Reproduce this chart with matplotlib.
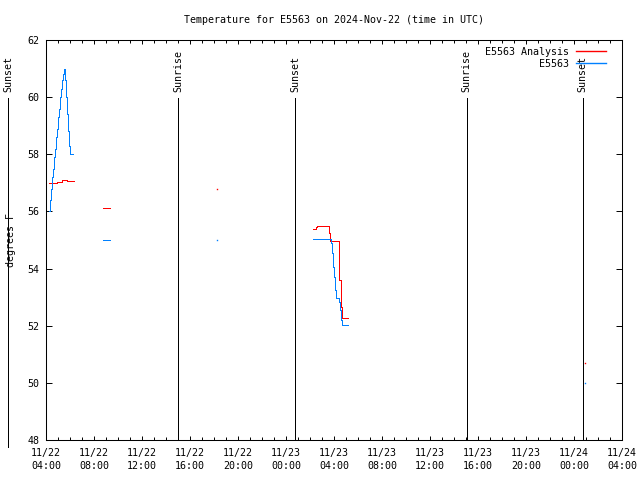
import pandas as pd
import matplotlib
matplotlib.use('Agg')
import matplotlib.pyplot as plt
import matplotlib.dates as mdates
import matplotlib.transforms as mtransforms

plt.rcParams['font.family'] = ['DejaVu Sans Mono']
plt.rcParams['font.size'] = 7.2
plt.rcParams['lines.antialiased'] = False

# measured E5563 (5 min steps), None = gap
obs_times = ['2024-11-22 04:15', '2024-11-22 04:20', '2024-11-22 04:25', '2024-11-22 04:30',
             '2024-11-22 04:35', '2024-11-22 04:40', '2024-11-22 04:45', '2024-11-22 04:50',
             '2024-11-22 04:55', '2024-11-22 05:00', '2024-11-22 05:05', '2024-11-22 05:10',
             '2024-11-22 05:15', '2024-11-22 05:20', '2024-11-22 05:25', '2024-11-22 05:30',
             '2024-11-22 05:35', '2024-11-22 05:40', '2024-11-22 05:45', '2024-11-22 05:50',
             '2024-11-22 05:55', '2024-11-22 06:00', '2024-11-22 06:05', '2024-11-22 06:10',
             '2024-11-22 06:15', '2024-11-22 06:16',
             '2024-11-22 08:45', '2024-11-22 09:20', '2024-11-22 09:21',
             '2024-11-23 02:15', '2024-11-23 03:45', '2024-11-23 03:50', '2024-11-23 03:55',
             '2024-11-23 04:00', '2024-11-23 04:05', '2024-11-23 04:10', '2024-11-23 04:25',
             '2024-11-23 04:30', '2024-11-23 04:35', '2024-11-23 04:40', '2024-11-23 05:10']
obs_vals = [56.0, 56.4, 56.8, 57.2, 57.5, 57.9, 58.2, 58.6,
            58.9, 59.3, 59.6, 60.0, 60.3, 60.6, 60.8, 61.0,
            60.6, 60.0, 59.4, 58.8, 58.3, 58.0, 58.0, 58.0,
            58.0, None,
            55.0, 55.0, None,
            55.02, 54.88, 54.53, 54.07,
            53.72, 53.25, 52.96, 52.84,
            52.55, 52.2, 52.02, 52.02]

# analysis
ana_times = ['2024-11-22 04:15', '2024-11-22 04:55', '2024-11-22 05:20', '2024-11-22 05:45',
             '2024-11-22 06:20', '2024-11-22 06:21',
             '2024-11-22 08:45', '2024-11-22 09:20', '2024-11-22 09:21',
             '2024-11-23 02:15', '2024-11-23 02:30', '2024-11-23 02:35', '2024-11-23 03:35',
             '2024-11-23 03:40', '2024-11-23 04:25', '2024-11-23 04:35', '2024-11-23 04:40',
             '2024-11-23 05:10']
ana_vals = [57.0, 57.03, 57.1, 57.05,
            57.05, None,
            56.12, 56.12, None,
            55.37, 55.45, 55.5, 55.23,
            54.95, 53.6, 52.67, 52.26,
            52.26]

# single readings
dot_times = ['2024-11-22 18:15', '2024-11-24 00:55']
obs_dots = [55.0, 50.0]
ana_dots = [56.77, 50.68]

events = ['Sunset', 'Sunrise', 'Sunset', 'Sunrise', 'Sunset']
event_times = ['2024-11-22 00:52', '2024-11-22 15:02', '2024-11-23 00:47',
               '2024-11-23 15:03', '2024-11-24 00:43']

red = '#ff0000'
blue = '#0080ff'

fig = plt.figure(figsize=(6.4, 4.8), dpi=100)
ax = fig.add_axes([46/640, 40/480, 576/640, 400/480])

obs_t = pd.to_datetime(obs_times)
ana_t = pd.to_datetime(ana_times)
obs_v = [float('nan') if v is None else v for v in obs_vals]
ana_v = [float('nan') if v is None else v for v in ana_vals]

ax.step(ana_t, ana_v, where='post', color=red, lw=0.7, label='E5563 Analysis')
ax.step(obs_t, obs_v, where='post', color=blue, lw=0.7, label='E5563')
ax.plot(pd.to_datetime(dot_times), ana_dots, ls='none', marker='s', ms=1.0, mew=0, color=red)
ax.plot(pd.to_datetime(dot_times), obs_dots, ls='none', marker='s', ms=1.0, mew=0, color=blue)

trans = mtransforms.blended_transform_factory(ax.transData, ax.transAxes)
for i, (name, t) in enumerate(zip(events, pd.to_datetime(event_times))):
    ax.axvline(t, ymin=-0.0175 if i == 0 else 0, ymax=0.855, color='black', lw=0.7, clip_on=False)
    ax.text(t, 0.87, name, transform=trans, rotation=90, ha='center', va='bottom', clip_on=False)

ax.set_xlim(pd.Timestamp('2024-11-22 04:00'), pd.Timestamp('2024-11-24 04:00'))
ax.set_ylim(48, 62)
ax.set_yticks(range(48, 63, 2))
ax.xaxis.set_major_locator(mdates.HourLocator(byhour=[0, 4, 8, 12, 16, 20]))
ax.xaxis.set_minor_locator(mdates.HourLocator())
ax.xaxis.set_major_formatter(mdates.DateFormatter('%m/%d\n%H:%M'))
ax.tick_params(axis='both', which='both', direction='in', top=True, right=True, width=0.7, color='black')
ax.tick_params(axis='x', which='major', length=3, pad=6)
ax.tick_params(axis='x', which='minor', length=2)
ax.tick_params(axis='y', which='major', length=4.3, pad=4.5)
for lbl in ax.get_xticklabels():
    lbl.set_linespacing(1.3)
for s in ax.spines.values():
    s.set_linewidth(0.75)

ax.set_title('Temperature for E5563 on 2024-Nov-22 (time in UTC)', fontsize=7.2, pad=12)
fig.text(11/640, 240/480, 'degrees F', rotation=90, ha='center', va='center')

leg = ax.legend(loc='upper right', markerfirst=False, frameon=False, handlelength=3, handletextpad=0.7,
                labelspacing=0.2, borderaxespad=0.3, bbox_to_anchor=(0.985, 1.0))
for h in leg.get_lines():
    h.set_linewidth(1.0)
    h.set_antialiased(True)

fig.savefig('out.png', dpi=100)
